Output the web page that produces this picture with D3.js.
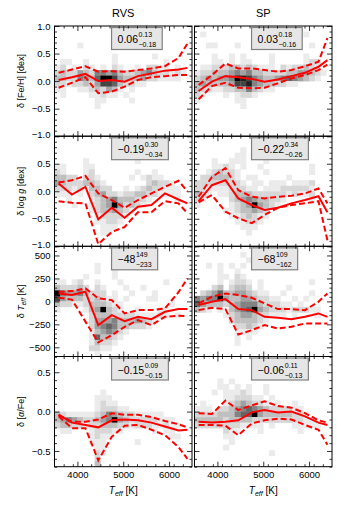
<!DOCTYPE html>
<html><head><meta charset="utf-8">
<script src="https://cdn.jsdelivr.net/npm/d3@7"></script>
<style>body{margin:0;background:#fff}svg{display:block}</style>
</head><body><svg id="c" width="337" height="506"></svg>
<script>
// ---------------- DATA ----------------
const columns = ["RVS", "SP"];
const teffGrid = [3590, 3880, 4175, 4455, 4750, 5030, 5320, 5615, 5910, 6205, 6400];
const xDomain = [3500, 6500];
const xMajor = [4000, 5000, 6000];
const xMinorStep = 200;

const feDomain = [-1, 1], feTicks = [-1, -0.5, 0, 0.5, 1], feLabels = [-1, -0.5, 0, 0.5, 1];
const loggDomain = [-1, 1], loggTicks = [-1, -0.5, 0, 0.5, 1], loggLabels = [-1, -0.5, 0, 0.5];
const teffDomain = [-600, 600], teffTicks = [-500, -250, 0, 250, 500], teffLabels = [-500, -250, 0, 250, 500];
const alphaDomain = [-0.7, 0.7], alphaTicks = [-0.5, 0, 0.5], alphaLabels = [-0.5, 0, 0.5];

// median / percentile lines (values at teffGrid)
const feRvsMed = [0.02, 0.07, 0.13, 0.0, 0.02, -0.01, 0.09, 0.14, 0.19, 0.21, 0.24];
const feRvsHi  = [0.15, 0.21, 0.27, 0.17, 0.18, 0.17, 0.2, 0.23, 0.27, 0.42, 0.68];
const feRvsLo  = [-0.12, -0.03, 0.07, -0.22, -0.19, -0.1, 0.02, 0.07, 0.09, 0.11, 0.11];
const feSpMed  = [-0.18, -0.01, 0.09, 0.07, 0.04, -0.01, 0.03, 0.09, 0.15, 0.26, 0.38];
const feSpHi   = [-0.07, 0.11, 0.32, 0.23, 0.23, 0.2, 0.17, 0.2, 0.27, 0.35, 0.78];
const feSpLo   = [-0.33, -0.09, -0.03, -0.12, -0.13, -0.12, -0.04, 0.05, 0.11, 0.2, 0.3];
const loggRvsMed = [0.14, -0.06, 0.08, -0.51, -0.3, -0.48, -0.28, -0.25, -0.04, -0.15, -0.22];
const loggRvsHi  = [0.16, 0.2, 0.28, -0.04, -0.16, -0.3, -0.16, -0.04, 0.08, 0.19, 0.0];
const loggRvsLo  = [-0.18, -0.21, -0.22, -0.96, -0.74, -0.65, -0.38, -0.38, -0.18, -0.22, -0.4];
const loggSpMed  = [-0.18, 0.11, 0.2, -0.13, -0.25, -0.34, -0.3, -0.22, -0.16, -0.09, -0.38];
const loggSpHi   = [-0.1, 0.26, 0.42, 0.02, -0.1, -0.13, -0.1, -0.08, -0.04, 0.05, -0.22];
const loggSpLo   = [-0.2, -0.07, -0.37, -0.49, -0.58, -0.43, -0.3, -0.25, -0.22, -0.18, -0.89];
const teffRvsMed = [87, 69, 105, -258, -149, -215, -168, -193, -113, -84, -84];
const teffRvsHi  = [105, 112, 142, 33, 14, -131, -95, -95, -76, 100, 250];
const teffRvsLo  = [40, 20, -220, -447, -367, -277, -204, -258, -168, -157, -160];
const teffSpMed  = [-40, -4, 25, -84, -95, -168, -179, -193, -168, -131, -168];
const teffSpHi   = [-22, 50, 87, 69, 40, -22, -84, -84, -95, -4, 87];
const teffSpLo   = [-95, -70, -84, -360, -313, -258, -295, -277, -240, -240, -240];
const alphaRvsMed = [-0.04, -0.14, -0.17, -0.2, -0.11, -0.1, -0.11, -0.14, -0.19, -0.24, -0.23];
const alphaRvsHi  = [-0.04, -0.13, -0.13, -0.1, -0.02, -0.04, -0.04, -0.07, -0.12, -0.16, -0.2];
const alphaRvsLo  = [-0.06, -0.21, -0.21, -0.62, -0.32, -0.18, -0.17, -0.23, -0.3, -0.45, -0.6];
const alphaSpMed  = [-0.13, -0.14, -0.13, -0.11, -0.01, 0.02, -0.01, 0.0, -0.06, -0.14, -0.17];
const alphaSpHi   = [-0.02, -0.03, 0.14, 0.02, 0.08, 0.13, 0.07, 0.05, -0.02, -0.11, -0.14];
const alphaSpLo   = [-0.17, -0.17, -0.18, -0.3, -0.15, -0.11, -0.09, -0.1, -0.17, -0.23, -0.42];

// annotation box numbers: median, +upper, -lower
const rvsBoxMain = ["0.06", "−0.19", "−48", "−0.15"];
const rvsBoxHi   = ["0.13", "0.30", "149", "0.09"];
const rvsBoxLo   = ["−0.18", "−0.34", "−233", "−0.15"];
const spBoxMain  = ["0.03", "−0.22", "−68", "−0.06"];
const spBoxHi    = ["0.18", "0.34", "109", "0.11"];
const spBoxLo    = ["−0.16", "−0.26", "−162", "−0.13"];

// 2D histogram: 24 Teff bins x 20 value bins (top row first), digit = density 1..9
const E = "...... ...... ...... ......";
const feRvsCells = [E,E,E,"....1. ...... ...... ......",E,"...... ....1. .....1 ......",".11..1 ....1. ...... .1....","12.1.2 1.1.21 ..1.22 11.1..","232243 255453 223453 22121.","332254 369974 333422 1111..","221223 247763 2211.. ......","11..11 232431 .1.... ......",".1.... 11211. 1..... ......","...... .11... .1.... ......","...... .1.... ...... ......",E,E,E,E,E];
const feSpCells = [E,".1.... ...... ...... .1....",E,"..11.. .1.... ...... ..1...",E,"...1.. 1.1... .1.... .1....","...11. 1.11.. .1.... .122..",".11222 332321 11.212 2321..","122333 454533 222233 44321.","234344 598754 334565 4321..","343333 477854 332211 ......","322112 233532 11.... ......","21...1 .1221. ...... ......","1..... .11... ...... ......","...... ..1... ...... ......",E,E,E,E,E];
const loggRvsCells = [E,E,E,E,".....1 ...... ..1... ......","11...1 1..... ...... ......","21...1 2..... ..1..1 ......","3322.2 21.... .1.121 1.....","432223 321... ....23 221...","22212. 3322.. 1.1232 2111..","111.1. 234221 223322 1111..","..1... 123453 33221. ...1..","...1.. 123494 2321.. ......","...... 123343 21.... ......","...... .12222 1..... ......","...... .11221 ...... ......","...... ..111. ...... ......","...... ..11.. ...... ......",E,E];
const loggSpCells = [E,E,"...... ..1... ...... ......","...... .11... ...... ......","...1.. 111... 1..... ......","...112 1.1..1 ...... ..1...","..1232 21.... 1..... ..1...",".22333 21.11. ....1. ......","222222 221.11 .111.1 112...","221111 22211. 111222 221...","321.11 233322 222212 112...","21.... 234543 3221.. ..1...","1..... 123494 321... ......",".....1 123343 2..... ......","...... 112321 1..... ......","...... .11221 ...... ......","...... ..111. ...... ......","...... ...1.. ...... ......",E,E];
const teffRvsCells = [E,E,E,"...... .1.... ...... ......","...... .1..1. ...... ......",".....1 ....1. ...... ......","11.12. .1...1 ...... .1....","322232 .21... 1..1.. ......","954453 222.1. .1...1 ......","743332 23211. 1...11 ......","322112 333211 ...... ..1...","1....1 349321 ..1... 11....","...... 233322 221111 21.1..","...... 244453 334321 ......","...... 245653 32221. ......","...... 134542 1..... ......","...... 163321 ...... ......","...... 13221. ...... ......","...... 2211.. ...... ......","...... .1.... ...... ......"];
const teffSpCells = [E,"...... ..1... ...... ......","...... ...1.. 1..... ......","..1.1. 1.1... ...... ......","....1. .1.... ...... ......","....11 .21... ...... ......","....1. 1221.1 ...... ..1...","...23. 2332.1 ....1. ......",".23463 344321 1..1.. ..1...","545594 334432 211..1 .1....","643332 345553 22211. 1.....","321.1. 345694 322212 2211..",".....1 234432 2111.1 ...1..","...... 233332 1..... ......","...... .22321 ...... ......","...... .1111. ...... ......","...... .1.1.. ...... ......","...... .1.... ...... ......",E,E];
const alphaRvsCells = [E,E,E,E,E,E,"...... ..1... ...... ......","...... .111.. ...... ......","...... .1211. ...... ......","...... .12221 1..... ......","321111 123543 221111 1.....","345432 234594 322222 111...","233221 223332 212221 1211..",".11... 122211 .....1 .11...","...... 1211.. ...... ..11..","...... 111... ..1... ......","...... .11... ...... ......","...... .21... ...... ......","...... .2.... ...... ......","...... .3.... ...... ......"];
const alphaSpCells = [E,E,E,E,"....1. 1..... ...... ......","....11 .1.1.. 1..... ......","...1.1 1121.. 1..... ......",".....1 122211 .1.... ......",".1...1 234322 1.1..1 ......","111.22 345654 322221 1.....","222233 356694 333332 21....","333332 333322 222222 211...","222222 221111 .1...1 1111..",".....2 11...1 ...... 1.....",".....1 1..... ...... ......","...... 1..... ...... ......",".....1 ...... ...... ......","...... ...... .1.... ......",E,E];

// ---------------- LAYOUT ----------------
const FONT = '"Liberation Sans", Arial, Helvetica, sans-serif';
const colX = [[54.5, 192], [194.5, 332]];
const rowY = [[26, 136.2], [136.2, 246.3], [246.3, 356.5], [356.5, 466.7]];

const rows = [
  {dom: feDomain, ticks: feTicks, labels: feLabels, minor: 0.1, fmt: d3.format(".1f"),
   panels: [[feRvsCells, feRvsMed, feRvsHi, feRvsLo], [feSpCells, feSpMed, feSpHi, feSpLo]]},
  {dom: loggDomain, ticks: loggTicks, labels: loggLabels, minor: 0.1, fmt: d3.format(".1f"),
   panels: [[loggRvsCells, loggRvsMed, loggRvsHi, loggRvsLo], [loggSpCells, loggSpMed, loggSpHi, loggSpLo]]},
  {dom: teffDomain, ticks: teffTicks, labels: teffLabels, minor: 50, fmt: d3.format("d"),
   panels: [[teffRvsCells, teffRvsMed, teffRvsHi, teffRvsLo], [teffSpCells, teffSpMed, teffSpHi, teffSpLo]]},
  {dom: alphaDomain, ticks: alphaTicks, labels: alphaLabels, minor: 0.1, fmt: d3.format(".1f"),
   panels: [[alphaRvsCells, alphaRvsMed, alphaRvsHi, alphaRvsLo], [alphaSpCells, alphaSpMed, alphaSpHi, alphaSpLo]]}
];
const boxes = [[rvsBoxMain, rvsBoxHi, rvsBoxLo], [spBoxMain, spBoxHi, spBoxLo]];

const svg = d3.select("#c");
const shade = d => d3.interpolateGreys(0.04 + 0.1067 * d);

function minorVals(dom, step, majors) {
  const out = [];
  const n = Math.round((dom[1] - dom[0]) / step);
  for (let i = 0; i <= n; i++) {
    const v = +(dom[0] + i * step).toFixed(6);
    if (!majors.some(m => Math.abs(m - v) < 1e-6)) out.push(v);
  }
  return out;
}
const xMinor = minorVals(xDomain, xMinorStep, xMajor).filter(v => v > xDomain[0] && v < xDomain[1]);

function styleAxis(g) {
  g.select(".domain").remove();
  g.attr("font-family", FONT).attr("font-size", 9.5);
  g.selectAll(".tick line").attr("stroke", "#000").attr("stroke-width", 0.8);
  g.selectAll(".tick text").attr("fill", "#000");
}

rows.forEach((row, ri) => {
  const [yt, yb] = rowY[ri];
  const y = d3.scaleLinear().domain(row.dom).range([yb, yt]);
  const yMinor = minorVals(row.dom, row.minor, row.ticks);
  row.panels.forEach((p, ci) => {
    const [x0, x1] = colX[ci];
    const x = d3.scaleLinear().domain(xDomain).range([x0, x1]);
    const [cells, med, hi, lo] = p;
    const clipId = `clip${ri}${ci}`;
    svg.append("clipPath").attr("id", clipId).append("rect")
      .attr("x", x0).attr("y", yt).attr("width", x1 - x0).attr("height", yb - yt);
    const g = svg.append("g").attr("clip-path", `url(#${clipId})`);

    // heatmap cells
    const nx = 24, ny = 20;
    const dx = (xDomain[1] - xDomain[0]) / nx, dy = (row.dom[1] - row.dom[0]) / ny;
    const cellData = [];
    cells.forEach((s, r) => {
      s.replace(/ /g, "").split("").forEach((ch, c) => {
        if (ch !== ".") cellData.push({c, r, v: +ch});
      });
    });
    g.selectAll("rect.cell").data(cellData).join("rect").attr("class", "cell")
      .attr("x", d => x(xDomain[0] + d.c * dx))
      .attr("y", d => y(row.dom[1] - d.r * dy))
      .attr("width", d => x(xDomain[0] + (d.c + 1) * dx) - x(xDomain[0] + d.c * dx) + 0.3)
      .attr("height", d => y(row.dom[1] - (d.r + 1) * dy) - y(row.dom[1] - d.r * dy) + 0.3)
      .attr("fill", d => shade(d.v));

    // lines
    const line = d3.line().x((d, i) => x(teffGrid[i])).y(d => y(d));
    g.append("path").attr("d", line(hi)).attr("fill", "none").attr("stroke", "#ff0000")
      .attr("stroke-width", 2).attr("stroke-dasharray", "6,3");
    g.append("path").attr("d", line(lo)).attr("fill", "none").attr("stroke", "#ff0000")
      .attr("stroke-width", 2).attr("stroke-dasharray", "6,3");
    g.append("path").attr("d", line(med)).attr("fill", "none").attr("stroke", "#ff0000")
      .attr("stroke-width", 2);

    // annotation box
    const [bm, bh, bl] = boxes[ci];
    const bx = x0 + 0.415 * (x1 - x0), by = yt + 1.5;
    const bg = svg.append("g").attr("font-family", FONT);
    const rect = bg.append("rect");
    const t1 = bg.append("text").attr("x", bx + 6).attr("y", by + 15.5).attr("font-size", 10.5).text(bm[ri]);
    const w = t1.node().getComputedTextLength();
    const ts = bg.append("text").attr("x", bx + 6.5 + w).attr("y", by + 9.5).attr("font-size", 7).text(bh[ri]);
    const tl = bg.append("text").attr("x", bx + 6.5 + w).attr("y", by + 19.5).attr("font-size", 7).text(bl[ri]);
    const ww = Math.max(ts.node().getComputedTextLength(), tl.node().getComputedTextLength());
    rect.attr("x", bx).attr("y", by).attr("width", 6.5 + w + ww + 6).attr("height", 22)
      .attr("fill", "#e6e6e6").attr("stroke", "#808080").attr("stroke-width", 1.2);

    // frame
    svg.append("rect").attr("x", x0).attr("y", yt).attr("width", x1 - x0).attr("height", yb - yt)
      .attr("fill", "none").attr("stroke", "#000").attr("stroke-width", 1);

    // axes (ticks inward on all sides)
    const labelFmt = v => (ci === 0 && row.labels.some(l => Math.abs(l - v) < 1e-9)) ? row.fmt(v) : "";
    const isBottom = ri === rows.length - 1;
    svg.append("g").attr("transform", `translate(${x0},0)`)
      .call(d3.axisLeft(y).tickValues(row.ticks).tickSize(-5).tickSizeOuter(0).tickPadding(4).tickFormat(labelFmt))
      .call(styleAxis)
      .call(ga => ga.selectAll(".tick text").filter(v => !isBottom && Math.abs(v - row.dom[0]) < 1e-9)
        .attr("dy", "0.1em"));
    svg.append("g").attr("transform", `translate(${x0},0)`)
      .call(d3.axisLeft(y).tickValues(yMinor).tickSize(-2.5).tickSizeOuter(0).tickFormat(() => "")).call(styleAxis);
    svg.append("g").attr("transform", `translate(${x1},0)`)
      .call(d3.axisRight(y).tickValues(row.ticks).tickSize(-5).tickSizeOuter(0).tickFormat(() => "")).call(styleAxis);
    svg.append("g").attr("transform", `translate(${x1},0)`)
      .call(d3.axisRight(y).tickValues(yMinor).tickSize(-2.5).tickSizeOuter(0).tickFormat(() => "")).call(styleAxis);
    svg.append("g").attr("transform", `translate(0,${yb})`)
      .call(d3.axisBottom(x).tickValues(xMajor).tickSize(-5).tickSizeOuter(0).tickPadding(5)
        .tickFormat(v => isBottom ? d3.format("d")(v) : "")).call(styleAxis);
    svg.append("g").attr("transform", `translate(0,${yb})`)
      .call(d3.axisBottom(x).tickValues(xMinor).tickSize(-2.5).tickSizeOuter(0).tickFormat(() => "")).call(styleAxis);
    svg.append("g").attr("transform", `translate(0,${yt})`)
      .call(d3.axisTop(x).tickValues(xMajor).tickSize(-5).tickSizeOuter(0).tickFormat(() => "")).call(styleAxis);
    svg.append("g").attr("transform", `translate(0,${yt})`)
      .call(d3.axisTop(x).tickValues(xMinor).tickSize(-2.5).tickSizeOuter(0).tickFormat(() => "")).call(styleAxis);
  });
});

// column titles and x labels
columns.forEach((t, ci) => {
  svg.append("text").attr("x", (colX[ci][0] + colX[ci][1]) / 2).attr("y", 17)
    .attr("text-anchor", "middle").attr("font-family", FONT).attr("font-size", 11).text(t);
  const xl = svg.append("text").attr("x", (colX[ci][0] + colX[ci][1]) / 2).attr("y", 494)
    .attr("text-anchor", "middle").attr("font-family", FONT).attr("font-size", 10);
  xl.append("tspan").attr("font-style", "italic").text("T");
  xl.append("tspan").attr("font-style", "italic").attr("font-size", 7).attr("dy", 2).text("eff");
  xl.append("tspan").attr("dy", -2).text(" [K]");
});

// y-axis labels
const yLabelParts = [
  [["δ ", {}], ["[Fe/H] [dex]", {}]],
  [["δ ", {}], ["log ", {}], ["g", {it: 1}], [" [dex]", {}]],
  [["δ ", {}], ["T", {it: 1}], ["eff", {it: 1, sub: 1}], [" [K]", {up: 1}]],
  [["δ ", {}], ["[", {}], ["α", {it: 1}], ["/Fe]", {}]]
];
yLabelParts.forEach((parts, ri) => {
  const cy = (rowY[ri][0] + rowY[ri][1]) / 2;
  const t = svg.append("text").attr("transform", `translate(24,${cy}) rotate(-90)`)
    .attr("text-anchor", "middle").attr("font-family", FONT).attr("font-size", 9);
  parts.forEach(([s, o]) => {
    const ts = t.append("tspan").text(s);
    if (o.it) ts.attr("font-style", "italic");
    if (o.sub) ts.attr("font-size", 6.5).attr("dy", 2);
    if (o.up) ts.attr("dy", -2);
  });
});
</script>
</body></html>
